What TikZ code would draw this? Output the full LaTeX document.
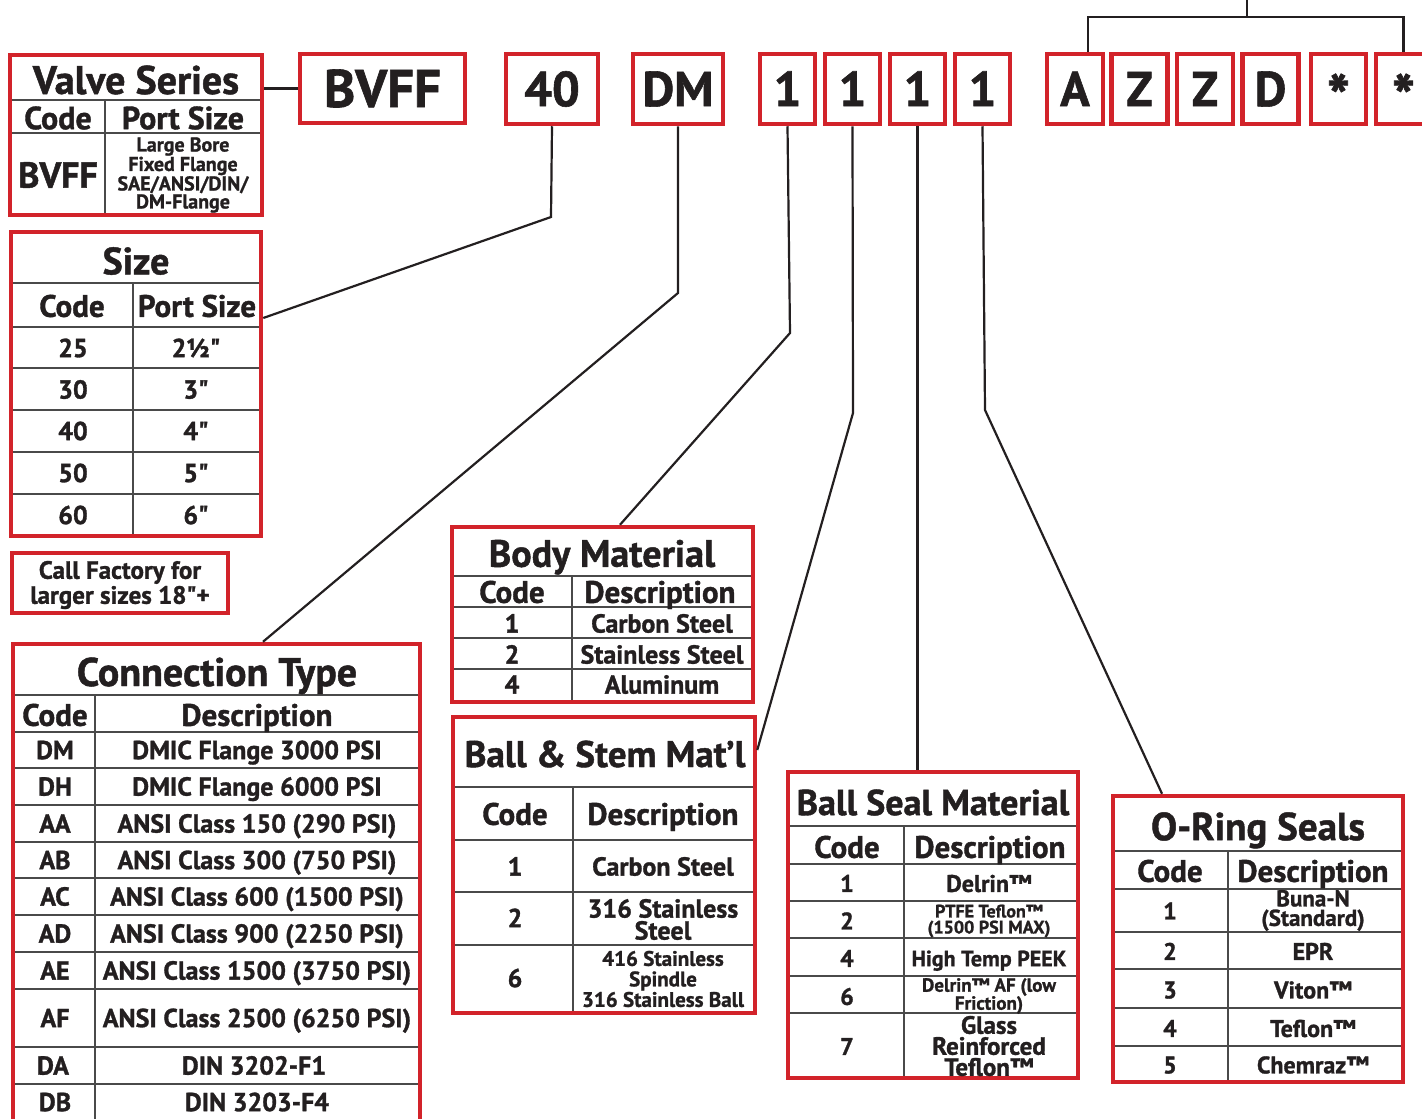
\documentclass[tikz,border=0pt]{standalone}
\usepackage{fontspec}
\setmainfont{PT Sans}[FakeBold=1.2]
\usepackage{tikz}
\definecolor{vred}{HTML}{D2232A}
\definecolor{ink}{HTML}{231F20}
\definecolor{rule}{HTML}{4A4A4A}
\newcommand{\vfs}[2]{\fontsize{#1}{#2}\selectfont\bfseries}
\newcommand{\inch}{\textquotedbl}

\begin{document}
\begin{tikzpicture}[x=1pt,y=-1pt,
  frame/.style={draw=vred,line width=4.5pt,inner sep=0pt},
  codebox/.style={frame,minimum height=70pt,text=ink,font=\vfs{49}{49},text height=34.3pt,text depth=0pt},
  starbox/.style={codebox,font=\vfs{62}{62},text height=60pt},
  grid/.style={draw=rule,line width=1.3pt},
  link/.style={draw=ink,line width=2.2pt},
  txt/.style 2 args={text=ink,inner sep=0pt,font=\vfs{#1}{#1},text height=#2,text depth=0pt},
  mtxt/.style 2 args={text=ink,inner sep=0pt,align=center,font=\vfs{#1}{#2}},
  ttl/.style={txt={38}{26.6pt}},
  hdr/.style={txt={31}{21.7pt}},
  cell/.style={txt={26}{18.2pt}},
  small/.style={txt={24}{16.8pt}}]
 \useasboundingbox (0,0) rectangle (1422,1119);
 \clip (0,0) rectangle (1422,1119);

 % code boxes along the top
 \node[codebox,minimum width=165pt,minimum height=69pt,font=\vfs{53}{53},text height=37pt] (cBVFF) at (382.5,88.5) {BVFF};
 \node[codebox,minimum width=92pt] (c40) at (552,89) {40};
 \node[codebox,minimum width=90pt] (cDM) at (678,89) {DM};
 \node[codebox,minimum width=55pt] (c1a) at (787.5,89) {1};
 \node[codebox,minimum width=55pt] (c1b) at (852.5,89) {1};
 \node[codebox,minimum width=55pt] (c1c) at (917.5,89) {1};
 \node[codebox,minimum width=55pt] (c1d) at (982.5,89) {1};
 \node[codebox,minimum width=56pt] (cA) at (1075,89) {A};
 \node[codebox,minimum width=56pt] (cZa) at (1139.5,89) {Z};
 \node[codebox,minimum width=56pt] (cZb) at (1205,89) {Z};
 \node[codebox,minimum width=56pt] (cD) at (1270.5,89) {D};
 \node[starbox,minimum width=55pt] (cSa) at (1338.5,89) {*};
 \node[starbox,minimum width=55pt] (cSb) at (1403.5,89) {*};

 % valve series
 \draw[grid] (10,100) -- (262,100) (10,133) -- (262,133) (105,100) -- (105,215);
 \node[frame,minimum width=252pt,minimum height=160pt] (valve) at (136,135) {};
 \node[txt={40}{28pt}] (valveT) at (136,80) {Valve Series};
 \node[txt={32}{22.4pt}] (valveC) at (58,118) {Code};
 \node[txt={32}{22.4pt}] (valveP) at (183,118) {Port Size};
 \node[txt={36}{25.2pt}] (valveB) at (58,175) {BVFF};
 \node[mtxt={20}{18}] (valveD) at (183,175) {Large Bore\\Fixed Flange\\SAE/ANSI/DIN/\\DM-Flange};

 % size
 \draw[grid] (11,283) -- (261,283) (11,327) -- (261,327) (11,368) -- (261,368)
  (11,410) -- (261,410) (11,452) -- (261,452) (11,494) -- (261,494) (133,283) -- (133,536);
 \node[frame,minimum width=250pt,minimum height=304pt] (size) at (136,384) {};
 \node[ttl] (sizeT) at (136,261) {Size};
 \node[hdr] (sizeC) at (72,306) {Code};
 \node[hdr] (sizeP) at (197,306) {Port Size};
 \node[cell] (sz25) at (73,348) {25}; \node[cell] (sz25p) at (196,348) {2½\inch};
 \node[cell] (sz30) at (73,389.5) {30}; \node[cell] (sz30p) at (196,389.5) {3\inch};
 \node[cell] (sz40) at (73,431) {40}; \node[cell] (sz40p) at (196,431) {4\inch};
 \node[cell] (sz50) at (73,473) {50}; \node[cell] (sz50p) at (196,473) {5\inch};
 \node[cell] (sz60) at (73,515) {60}; \node[cell] (sz60p) at (196,515) {6\inch};

 % call factory note
 \node[frame,minimum width=216pt,minimum height=60pt] (call) at (120,583) {};
 \node[mtxt={25}{25}] (callT) at (120,585) {Call Factory for\\larger sizes 18\inch+};

 % connection type
 \draw[grid] (13,695) -- (420,695) (13,732) -- (420,732) (13,768) -- (420,768)
  (13,805) -- (420,805) (13,842) -- (420,842) (13,878) -- (420,878) (13,915) -- (420,915)
  (13,952) -- (420,952) (13,989) -- (420,989) (13,1047) -- (420,1047) (13,1084) -- (420,1084)
  (95,695) -- (95,1160);
 \node[frame,minimum width=407pt,minimum height=516pt] (conn) at (216.5,902) {};
 \node[txt={40}{28pt}] (connT) at (217,672) {Connection Type};
 \node[hdr] (connC) at (55,715) {Code};
 \node[hdr] (connD) at (257,715) {Description};
 \node[cell] (ctDM) at (55,750) {DM}; \node[cell] (ctDMd) at (257,750) {DMIC Flange 3000 PSI};
 \node[cell] (ctDH) at (55,786.5) {DH}; \node[cell] (ctDHd) at (257,786.5) {DMIC Flange 6000 PSI};
 \node[cell] (ctAA) at (55,823.5) {AA}; \node[cell] (ctAAd) at (257,823.5) {ANSI Class 150 (290 PSI)};
 \node[cell] (ctAB) at (55,860) {AB}; \node[cell] (ctABd) at (257,860) {ANSI Class 300 (750 PSI)};
 \node[cell] (ctAC) at (55,896.5) {AC}; \node[cell] (ctACd) at (257,896.5) {ANSI Class 600 (1500 PSI)};
 \node[cell] (ctAD) at (55,933.5) {AD}; \node[cell] (ctADd) at (257,933.5) {ANSI Class 900 (2250 PSI)};
 \node[cell] (ctAE) at (55,970.5) {AE}; \node[cell] (ctAEd) at (257,970.5) {ANSI Class 1500 (3750 PSI)};
 \node[cell] (ctAF) at (55,1018) {AF}; \node[cell] (ctAFd) at (257,1018) {ANSI Class 2500 (6250 PSI)};
 \node[cell] (ctDA) at (53,1065.5) {DA}; \node[cell] (ctDAd) at (254,1065.5) {DIN 3202-F1};
 \node[cell] (ctDB) at (55,1102) {DB}; \node[cell] (ctDBd) at (257,1102) {DIN 3203-F4};

 % body material
 \draw[grid] (452,576) -- (753,576) (452,607) -- (753,607) (452,638) -- (753,638)
  (452,669) -- (753,669) (572,576) -- (572,702);
 \node[frame,minimum width=301pt,minimum height=175pt] (body) at (602.5,614.5) {};
 \node[ttl] (bodyT) at (602,553.5) {Body Material};
 \node[hdr] (bodyC) at (512,592) {Code};
 \node[hdr] (bodyD) at (660,592) {Description};
 \node[cell] (bm1) at (512,623.5) {1}; \node[cell] (bm1d) at (662,623.5) {Carbon Steel};
 \node[cell] (bm2) at (512,654.5) {2}; \node[cell] (bm2d) at (662,654.5) {Stainless Steel};
 \node[cell] (bm4) at (512,684.5) {4}; \node[cell] (bm4d) at (662,684.5) {Aluminum};

 % ball and stem
 \draw[grid] (453,787) -- (755,787) (453,840) -- (755,840) (453,892) -- (755,892)
  (453,945) -- (755,945) (573,787) -- (573,1013);
 \node[frame,minimum width=302pt,minimum height=296pt] (stem) at (604,865) {};
 \node[txt={37}{26pt}] (stemT) at (605,754) {Ball \& Stem Mat'l};
 \node[hdr] (stemC) at (515,814) {Code};
 \node[hdr] (stemD) at (663,814) {Description};
 \node[cell] (bs1) at (515,866.5) {1}; \node[cell] (bs1d) at (663,866.5) {Carbon Steel};
 \node[cell] (bs2) at (515,918) {2}; \node[mtxt={26}{22}] (bs2d) at (663,919.5) {316 Stainless\\Steel};
 \node[cell] (bs6) at (515,978) {6}; \node[mtxt={21}{20.5}] (bs6d) at (663,979) {416 Stainless\\Spindle\\316 Stainless Ball};

 % ball seal material
 \draw[grid] (788,826) -- (1078,826) (788,864) -- (1078,864) (788,901) -- (1078,901)
  (788,938) -- (1078,938) (788,976) -- (1078,976) (788,1013) -- (1078,1013) (904,826) -- (904,1078);
 \node[frame,minimum width=290pt,minimum height=306pt] (seal) at (933,925) {};
 \node[txt={36}{25.2pt}] (sealT) at (933,802.5) {Ball Seal Material};
 \node[txt={31}{21.7pt}] (sealC) at (847,847) {Code};
 \node[txt={31}{21.7pt}] (sealD) at (990,847) {Description};
 \node[small] (bl1) at (847,883.5) {1}; \node[small] (bl1d) at (989,883.5) {Delrin™};
 \node[small] (bl2) at (847,921) {2}; \node[mtxt={18}{16}] (bl2d) at (989,921) {PTFE Teflon™\\(1500 PSI MAX)};
 \node[small] (bl4) at (847,958.5) {4}; \node[txt={22}{15.4pt}] (bl4d) at (989,958.5) {High Temp PEEK};
 \node[small] (bl6) at (847,996.5) {6}; \node[mtxt={19}{18}] (bl6d) at (989,996) {Delrin™ AF (low\\Friction)};
 \node[small] (bl7) at (847,1046.5) {7}; \node[mtxt={25}{21}] (bl7d) at (989,1046) {Glass\\Reinforced\\Teflon™};

 % o-ring seals
 \draw[grid] (1113,851) -- (1403,851) (1113,889) -- (1403,889) (1113,932) -- (1403,932)
  (1113,969) -- (1403,969) (1113,1008) -- (1403,1008) (1113,1046) -- (1403,1046) (1228,851) -- (1228,1082);
 \node[frame,minimum width=290pt,minimum height=286pt] (oring) at (1258,939) {};
 \node[txt={39}{27.3pt}] (oringT) at (1258,826.5) {O-Ring Seals};
 \node[hdr] (oringC) at (1170,871) {Code};
 \node[hdr] (oringD) at (1313,871) {Description};
 \node[small] (or1) at (1170,911) {1}; \node[mtxt={23}{19.5}] (or1d) at (1313,910.5) {Buna-N\\(Standard)};
 \node[small] (or2) at (1170,951.5) {2}; \node[small] (or2d) at (1313,951.5) {EPR};
 \node[small] (or3) at (1170,990) {3}; \node[small] (or3d) at (1313,990) {Viton™};
 \node[small] (or4) at (1170,1028.5) {4}; \node[small] (or4d) at (1313,1028.5) {Teflon™};
 \node[small] (or5) at (1170,1065) {5}; \node[small] (or5d) at (1313,1065) {Chemraz™};

 % connectors
 \coordinate (k40) at (551,217);
 \coordinate (kDM) at (678,293);
 \coordinate (k1a) at (790,333);
 \coordinate (k1b) at (853,413);
 \coordinate (k1d) at (985,410);
 \coordinate (brMid) at (1247,17);
 \coordinate (brTop) at (1247,-3);
 \draw[link] (valve.east |- cBVFF.west) -- (cBVFF.west);
 \draw[link] (c40.south) -- (k40) -- (size.east |- 0,318);
 \draw[link] (cDM.south) -- (kDM) -- (conn.north -| 263,0);
 \draw[link] (c1a.south) -- (k1a) -- (body.north -| 620,0);
 \draw[link] (c1b.south) -- (k1b) -- (stem.east |- 0,750);
 \draw[link] (c1c.south) -- (seal.north -| c1c.south);
 \draw[link] (c1d.south) -- (k1d) -- (oring.north -| 1162,0);
 \draw[link] ([xshift=13pt]cA.north) |- (brMid) -| (cSb.north);
 \draw[link] (brMid) -- (brTop);
\end{tikzpicture}
\end{document}
